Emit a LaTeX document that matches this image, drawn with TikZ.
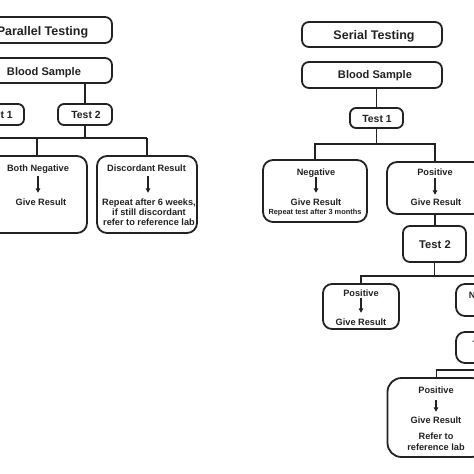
\documentclass[tikz,border=0pt]{standalone}
\usepackage{fontspec}
\setmainfont{Liberation Sans}
\usetikzlibrary{arrows.meta,calc}
\definecolor{ink}{HTML}{222222}
\begin{document}
\begin{tikzpicture}[x=1pt,y=-1pt,
  bx/.style n args={3}{draw=ink,line width=1.8pt,rounded corners=#1,minimum width=#2,minimum height=#3,inner sep=0pt},
  txt/.style 2 args={font=\fontsize{#1}{#1}\selectfont\bfseries,text=ink,inner sep=0pt,text height=#2,text depth=0pt},
  tbig/.style={txt={12.5}{9pt}},
  tmid/.style={txt={11.1}{7.95pt}},
  ttest/.style={txt={10.4}{7.45pt}},
  tbody/.style={txt={9.2}{6.6pt}},
  tsmall/.style={txt={7.4}{5.3pt}},
  conn/.style={draw=ink,line width=1.3pt},
  arr/.style={draw=ink,line width=1.1pt,-{Triangle[length=4.5pt,width=4.5pt]}}]
\useasboundingbox (0,0) rectangle (474,474);
\clip (0,0) rectangle (474,474);
\fill[white] (0,0) rectangle (474,474);

% ---------------- Parallel testing ----------------
\node[bx={7pt}{140pt}{26pt}] (ptitle) at (42,30) {};
\node[tbig] (ptitleT) at (42.5,31) {Parallel Testing};
\node[bx={7pt}{138pt}{25pt}] (pblood) at (43,70.5) {};
\node[tmid] (pbloodT) at (44,71.5) {Blood Sample};
\node[bx={6pt}{52pt}{21pt}] (ptest1) at (-2,114.5) {};
\node[ttest] (ptest1T) at (-2,115) {Test 1};
\node[bx={6pt}{54pt}{21pt}] (ptest2) at (85,114.5) {};
\node[ttest] (ptest2T) at (86,115) {Test 2};
\node[bx={10pt}{100pt}{77pt}] (pneg) at (37,194.5) {};
\node[tbody] (pnegA) at (38,168.3) {Both Negative};
\node[tbody] (pnegB) at (41,202) {Give Result};
\node[bx={10pt}{100pt}{77pt}] (pdisc) at (147,194.5) {};
\node[tbody] (pdiscA) at (146.5,168.3) {Discordant Result};
\node[tbody] (pdiscB) at (149,202) {Repeat after 6 weeks,};
\node[tbody] (pdiscC) at (149,211.8) {if still discordant};
\node[tbody] (pdiscD) at (149,221.7) {refer to reference lab};

\coordinate (pbarL) at (-10,138);
\draw[conn] (pblood.south -| ptest1) -- (ptest1.north);
\draw[conn] (pblood.south -| ptest2) -- (ptest2.north);
\draw[conn] (ptest1.south) -- (ptest1.south |- pbarL);
\draw[conn] (ptest2.south) -- (ptest2.south |- pbarL);
\draw[conn] (pbarL) -- (pbarL -| pdisc.north);
\draw[conn] (pneg.north |- pbarL) -- (pneg.north);
\draw[conn] (pdisc.north |- pbarL) -- (pdisc.north);
\draw[arr] ($(pnegA.south)+(0,3.7)$) -- ($(pnegA.south |- pnegB.north)+(0,-5.7)$);
\draw[arr] ($(pdiscA.south)+(1.5,3.7)$) -- ($(pdiscA.south |- pdiscB.north)+(1.5,-5.7)$);

% ---------------- Serial testing ----------------
\node[bx={7pt}{140pt}{25pt}] (stitle) at (372,34.5) {};
\node[tbig] (stitleT) at (374,35) {Serial Testing};
\node[bx={7pt}{140pt}{26pt}] (sblood) at (372,75) {};
\node[tmid] (sbloodT) at (375,75) {Blood Sample};
\node[bx={6pt}{53pt}{20pt}] (stest1) at (376.5,118) {};
\node[ttest] (stest1T) at (377,118.3) {Test 1};
\node[bx={10pt}{104pt}{62pt}] (sneg) at (315,191) {};
\node[tbody] (snegA) at (316,172) {Negative};
\node[tbody] (snegB) at (316,202) {Give Result};
\node[tsmall] (snegC) at (315,212) {Repeat test after 3 months};
\node[bx={10pt}{96pt}{52pt}] (spos) at (435,188) {};
\node[tbody] (sposA) at (435,172) {Positive};
\node[tbody] (sposB) at (436,202) {Give Result};
\node[bx={7pt}{63pt}{36pt}] (stest2) at (434.5,244) {};
\node[txt={11.2}{8pt}] (stest2T) at (435,244) {Test 2};
\node[bx={9pt}{76pt}{45pt}] (spos2) at (361,306.5) {};
\node[tbody] (spos2A) at (361,293) {Positive};
\node[tbody] (spos2B) at (361,322) {Give Result};
\node[bx={9pt}{64pt}{32pt}] (sneg2) at (488,300) {};
\node[tbody] (sneg2T) at (488,295) {Negative};
\node[bx={9pt}{64pt}{31pt}] (stest3) at (488,347.5) {};
\node[tbody] (stest3T) at (485.5,344) {Test 3};
\node[bx={14pt}{98pt}{79pt}] (spos3) at (436.5,417.5) {};
\node[tbody] (spos3A) at (436,390) {Positive};
\node[tbody] (spos3B) at (436,420) {Give Result};
\node[tbody] (spos3C) at (436,436) {Refer to};
\node[tbody] (spos3D) at (436,447) {reference lab};

\coordinate (sj1) at ($(stest1.south)+(0,15)$);
\coordinate (sj2) at ($(stest2.south)+(0,13)$);
\coordinate (sj3) at ($(stest3.south)+(0,6)$);
\draw[conn] (sblood.south -| stest1) -- (stest1.north);
\draw[conn] (stest1.south) -- (sj1);
\draw[conn] (sneg.north) |- (sj1) -| (spos.north);
\draw[conn] (spos.south) -- (spos.south |- stest2.north);
\draw[conn] (stest2.south) -- (sj2);
\draw[conn] (spos2.north) |- (sj2) -| (sneg2.north);
\draw[conn] (sneg2.south) -- (stest3.north);
\draw[conn] (stest3.south) -- (sj3) -| (spos3.north);
\draw[arr] ($(snegA.south)+(0,1.7)$) -- ($(snegA.south |- snegB.north)+(0,-5.7)$);
\draw[arr] ($(sposA.south)+(0,2.7)$) -- ($(sposA.south |- sposB.north)+(0,-3.7)$);
\draw[arr] ($(spos2A.south)+(0,1.7)$) -- ($(spos2A.south |- spos2B.north)+(0,-5.7)$);
\draw[arr] ($(spos3A.south)+(0,6.7)$) -- ($(spos3A.south |- spos3B.north)+(0,-4.7)$);
\end{tikzpicture}
\end{document}
